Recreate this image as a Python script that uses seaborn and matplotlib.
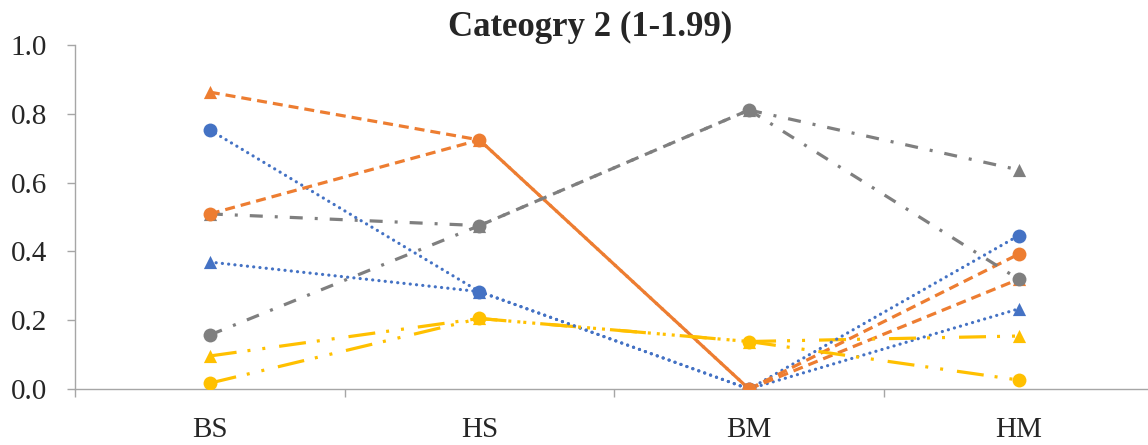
import matplotlib
matplotlib.use("Agg")
import matplotlib.pyplot as plt
import pandas as pd
import seaborn as sns

categories = ["BS", "HS", "BM", "HM"]

blue_circle = [0.753, 0.283, 0.0, 0.446]
blue_triangle = [0.369, 0.283, 0.0, 0.233]
orange_circle = [0.509, 0.724, 0.0, 0.392]
orange_triangle = [0.863, 0.724, 0.0, 0.319]
gray_circle = [0.157, 0.475, 0.811, 0.319]
gray_triangle = [0.509, 0.475, 0.811, 0.637]
yellow_circle = [0.017, 0.205, 0.138, 0.026]
yellow_triangle = [0.096, 0.205, 0.138, 0.154]

y_ticks = [0.0, 0.2, 0.4, 0.6, 0.8, 1.0]
title = "Cateogry 2 (1-1.99)"

sns.set_style("white")
plt.rcParams["font.family"] = ["Liberation Serif", "DejaVu Serif"]
plt.rcParams["lines.scale_dashes"] = False

PX = 0.72  # points per pixel at 100 dpi


def dash(pattern_px, offset_px=0.0):
    return (offset_px * PX, tuple(v * PX for v in pattern_px))


# colour -> (hex, dash pattern in px, cap style, line width pt, middle-segment offset px)
styles = {
    "blue": ("#4472C4", (0.1, 6.2), "round", 2.3, 0.0),
    "orange": ("#ED7D31", (10.0, 6.0), "butt", 2.3, 8.0),
    "gray": ("#7F7F7F", (13.0, 12.0, 3.0, 12.0), "butt", 2.3, 20.0),
    "yellow": ("#FFC000", (27.0, 11.0, 3.0, 12.0, 3.0, 14.0), "butt", 2.3, 9.0),
}

# later entries are drawn on top
series = [
    ("blue", "^", blue_triangle, False),
    ("orange", "^", orange_triangle, False),
    ("gray", "^", gray_triangle, False),
    ("yellow", "^", yellow_triangle, False),
    ("blue", "o", blue_circle, True),
    ("orange", "o", orange_circle, True),
    ("gray", "o", gray_circle, True),
    ("yellow", "o", yellow_circle, True),
]

fig = plt.figure(figsize=(11.48, 4.45), dpi=100)
ax = fig.add_axes([75 / 1148, 56 / 445, 1078.5 / 1148, 344 / 445])

x_pos = list(range(len(categories)))

for z, (cname, marker, values, shifted) in enumerate(series):
    color, pattern, cap, lw, mid_off = styles[cname]
    for i in range(len(categories) - 1):
        seg = pd.DataFrame({"x": x_pos[i:i + 2], "y": values[i:i + 2]})
        off = mid_off if (i == 1 and shifted) else 0.0
        sns.lineplot(data=seg, x="x", y="y", ax=ax, color=color, linewidth=lw,
                     linestyle=dash(pattern, off), dash_capstyle=cap,
                     sort=False, estimator=None, legend=False, zorder=2 + z * 0.01)

for z, (cname, marker, values, shifted) in enumerate(series):
    color = styles[cname][0]
    pts = pd.DataFrame({"x": x_pos, "y": values})
    sns.scatterplot(data=pts, x="x", y="y", ax=ax, color=color, marker=marker,
                    s=100 if marker == "o" else 90, linewidth=0, legend=False,
                    zorder=5 + z * 0.01)

ax.set_xlim(-0.5, len(categories) - 0.5)
ax.set_ylim(0, 1.0)

axis_gray = "#A6A6A6"
for side in ["top", "right"]:
    ax.spines[side].set_visible(False)
for side in ["left", "bottom"]:
    ax.spines[side].set_color(axis_gray)
    ax.spines[side].set_linewidth(1.0)

ax.set_xticks([k - 0.5 for k in range(len(categories) + 1)])
ax.set_xticklabels([])
ax.set_xticks(x_pos, minor=True)
ax.set_xticklabels(categories, minor=True, fontsize=21)
ax.tick_params(axis="x", which="major", direction="out", length=6, width=1,
               color=axis_gray, bottom=True)
ax.tick_params(axis="x", which="minor", length=0, pad=20)

ax.set_yticks(y_ticks)
ax.set_yticklabels([f"{v:.1f}" for v in y_ticks], fontsize=21)
ax.tick_params(axis="y", direction="out", length=6, width=1, color=axis_gray,
               pad=14, left=True)

ax.set_xlabel("")
ax.set_ylabel("")
ax.grid(False)

fig.text(590 / 1148, (445 - 36) / 445, title, ha="center", va="baseline",
         fontsize=25, fontweight="bold")

fig.savefig("out.png", dpi=100)
